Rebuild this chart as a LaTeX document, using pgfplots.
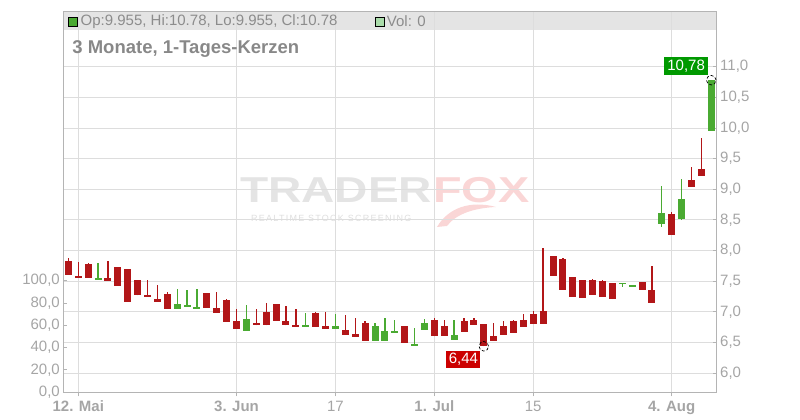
\documentclass[border=0pt]{standalone}
\usepackage{pgfplots}
\pgfplotsset{compat=1.18}
\usepackage{pgfplotstable}
\usepackage{fontspec}
\setmainfont{Liberation Sans}
\definecolor{cred}{RGB}{178,22,24}
\definecolor{cgreen}{RGB}{74,170,50}
\definecolor{labgreen}{RGB}{0,153,0}
\definecolor{labred}{RGB}{204,0,0}
\definecolor{gridc}{RGB}{221,221,221}
\definecolor{axc}{RGB}{180,180,180}
\definecolor{tickc}{RGB}{165,165,165}
\definecolor{hdrc}{RGB}{140,140,140}
\definecolor{titc}{RGB}{136,136,136}
\definecolor{barc}{RGB}{228,228,228}
\definecolor{wmgray}{RGB}{228,228,228}
\definecolor{wmsub}{RGB}{222,222,222}
\definecolor{foxpink}{RGB}{250,214,214}
\definecolor{volsq}{RGB}{170,220,170}

\pgfplotstableread{
i o h l c
-1 7.83 7.88 7.61 7.61
0 7.58 7.81 7.56 7.56
1 7.78 7.80 7.56 7.56
3 7.555 7.83 7.51 7.51
4 7.73 7.73 7.43 7.43
5 7.70 7.70 7.17 7.17
6 7.52 7.52 7.27 7.27
7 7.28 7.52 7.25 7.25
8 7.21 7.44 7.17 7.17
9 7.29 7.33 7.05 7.05
13 7.31 7.31 7.07 7.07
14 7.065 7.33 6.99 6.99
15 7.195 7.21 6.84 6.84
16 6.85 7.05 6.73 6.73
18 6.82 7.05 6.78 6.78
19 7.00 7.15 6.78 6.78
20 7.13 7.13 6.86 6.86
21 6.85 7.10 6.78 6.78
22 6.79 7.05 6.76 6.76
24 6.98 7.005 6.755 6.755
25 6.77 7.005 6.73 6.73
27 6.71 6.95 6.63 6.63
28 6.64 6.90 6.60 6.60
29 6.82 6.85 6.53 6.53
33 6.77 6.77 6.50 6.50
36 6.87 6.90 6.60 6.60
37 6.77 6.87 6.61 6.61
39 6.85 6.90 6.68 6.68
40 6.87 6.90 6.79 6.79
41 6.80 6.80 6.44 6.44
42 6.61 6.82 6.53 6.53
43 6.77 6.85 6.63 6.63
44 6.85 6.87 6.66 6.66
45 6.87 6.97 6.76 6.76
46 6.97 7.02 6.81 6.81
47 7.02 8.04 6.81 6.81
48 7.91 7.91 7.59 7.59
49 7.86 7.88 7.36 7.36
50 7.57 7.57 7.245 7.245
51 7.52 7.52 7.23 7.23
52 7.52 7.54 7.28 7.28
53 7.505 7.52 7.245 7.245
54 7.47 7.47 7.21 7.21
57 7.49 7.49 7.36 7.36
58 7.36 7.75 7.15 7.15
60 8.60 8.63 8.26 8.26
62 9.155 9.365 9.045 9.045
63 9.33 9.84 9.22 9.22
}\redtab

\pgfplotstableread{
i o h l c
2 7.53 7.80 7.53 7.555
10 7.05 7.38 7.05 7.13
11 7.10 7.36 7.10 7.11
12 7.055 7.38 7.055 7.08
17 6.695 7.11 6.695 6.886
23 6.76 6.98 6.76 6.776
26 6.73 6.97 6.73 6.77
30 6.53 6.82 6.53 6.77
31 6.53 6.90 6.53 6.69
32 6.67 6.87 6.67 6.69
34 6.46 6.74 6.46 6.475
35 6.71 6.89 6.71 6.82
38 6.55 6.87 6.55 6.62
55 7.455 7.475 7.41 7.475
56 7.42 7.44 7.41 7.435
59 8.43 9.06 8.39 8.61
61 8.52 9.17 8.50 8.84
64 9.955 10.78 9.955 10.78
}\greentab

\begin{document}
\begin{tikzpicture}
\path[use as bounding box] (0,0) rectangle (800bp,420bp);
% header bar
\fill[barc] (63bp,390bp) rectangle (716.7bp,408bp);
% watermark
\node[anchor=west, inner sep=0pt, xscale=1.28, text=wmgray, font=\fontsize{36bp}{40bp}\selectfont\bfseries] at (240bp,230bp) {TRADER};
\node[anchor=west, inner sep=0pt, xscale=1.30, text=foxpink, font=\fontsize{36bp}{40bp}\selectfont\bfseries] at (433bp,230bp) {FOX};
\node[anchor=west, inner sep=0pt, text=wmsub, font=\fontsize{9bp}{10bp}\selectfont\addfontfeature{LetterSpace=14}] at (251bp,201.7bp) {REALTIME STOCK SCREENING};
\fill[foxpink] (437bp,193bp) .. controls (448bp,212bp) and (470bp,220bp) .. (496bp,213bp)
  .. controls (474bp,212bp) and (456bp,206bp) .. (447bp,194bp) -- cycle;

% volume axis (left)
\begin{axis}[
  at={(63bp,27.7bp)}, anchor=south west,
  scale only axis, width=653.7bp, height=380.3bp,
  xmin=-1.547, xmax=64.55, ymin=0, ymax=340.8,
  axis x line=none, axis y line*=left,
  y axis line style={draw=axc, line width=1bp},
  ytick={0,20,...,100},
  ytick align=inside, major tick length=4.5bp,
  ytick style={draw=axc, line width=1bp},
  yticklabel style={font=\fontsize{15bp}{18bp}\selectfont, text=tickc, inner sep=0pt, xshift=-3bp},
  /pgf/number format/.cd, fixed, fixed zerofill, precision=1, use comma, assume math mode=true,
]
\end{axis}

% price axis
\begin{axis}[
  at={(63bp,27.7bp)}, anchor=south west,
  scale only axis, width=653.7bp, height=380.3bp,
  xmin=-1.547, xmax=64.55, ymin=5.69, ymax=11.892,
  axis line style={draw=axc, line width=1bp},
  xtick={0,16,26,36,46,60},
  xticklabels={\textbf{12. Mai},\textbf{3. Jun},17,\textbf{1. Jul},15,\textbf{4. Aug}},
  xtick pos=left, xticklabel pos=left,
  ytick pos=right, yticklabel pos=right,
  ytick={6,6.5,...,11},
  xtick align=outside, ytick align=inside,
  major tick length=4bp,
  tick style={draw=axc, line width=1bp},
  grid=major, major grid style={draw=gridc, line width=1bp},
  xticklabel style={font=\fontsize{15bp}{18bp}\selectfont, text=tickc, inner sep=0pt, yshift=-4.5bp},
  yticklabel style={font=\fontsize{15bp}{18bp}\selectfont, text=tickc, inner sep=0pt, xshift=3.3bp},
  yticklabel style={/pgf/number format/.cd, fixed, fixed zerofill, precision=1, use comma, assume math mode=true},
]
% red wicks
\addplot[draw=none, mark=none, forget plot,
  error bars/.cd, y dir=plus, y explicit, error mark=none,
  error bar style={line width=1.3bp, draw=cred}]
  table[x=i, y=l, y error expr=\thisrow{h}-\thisrow{l}] {\redtab};
% red bodies
\addplot[draw=none, mark=none, forget plot,
  error bars/.cd, y dir=both, y explicit, error mark=none,
  error bar style={line width=7bp, draw=cred}]
  table[x=i, y expr=(\thisrow{o}+\thisrow{c})/2, y error expr={max(abs(\thisrow{o}-\thisrow{c})/2,0.013)}] {\redtab};
% green wicks
\addplot[draw=none, mark=none, forget plot,
  error bars/.cd, y dir=plus, y explicit, error mark=none,
  error bar style={line width=1.3bp, draw=cgreen}]
  table[x=i, y=l, y error expr=\thisrow{h}-\thisrow{l}] {\greentab};
% green bodies
\addplot[draw=none, mark=none, forget plot,
  error bars/.cd, y dir=both, y explicit, error mark=none,
  error bar style={line width=7bp, draw=cgreen}]
  table[x=i, y expr=(\thisrow{o}+\thisrow{c})/2, y error expr={max(abs(\thisrow{o}-\thisrow{c})/2,0.013)}] {\greentab};
% high marker
\addplot[only marks, mark=o, mark size=4.8bp,
  mark options={draw=black, densely dashed, line width=0.7bp},
  nodes near coords={10{,}78},
  every node near coord/.append style={fill=labgreen, text=white, font=\fontsize{15bp}{17bp}\selectfont,
    inner xsep=3bp, inner ysep=2.5bp, text height=11bp, text depth=2.5bp,
    anchor=south east, xshift=-3bp, yshift=4.6bp, solid}]
  coordinates {(64,10.78)};
% low marker
\addplot[only marks, mark=o, mark size=4.8bp,
  mark options={draw=black, densely dashed, line width=0.7bp},
  nodes near coords={6{,}44},
  every node near coord/.append style={fill=labred, text=white, font=\fontsize{15bp}{17bp}\selectfont,
    inner xsep=2.5bp, inner ysep=2bp, text height=11bp, text depth=2.5bp,
    anchor=north east, xshift=-3bp, yshift=-4bp, solid}]
  coordinates {(41,6.44)};
\end{axis}

% header contents
\filldraw[fill=cgreen, draw=black, line width=1bp] (68.7bp,393.7bp) rectangle (77.3bp,402.7bp);
\node[anchor=west, inner sep=0pt, text=hdrc, font=\fontsize{15bp}{18bp}\selectfont] at (80.5bp,398.5bp) {Op:9.955, Hi:10.78, Lo:9.955, Cl:10.78};
\filldraw[fill=volsq, draw=black, line width=1bp] (375bp,393.7bp) rectangle (384bp,402.7bp);
\node[anchor=west, inner sep=0pt, text=hdrc, font=\fontsize{15bp}{18bp}\selectfont] at (386.7bp,398.5bp) {Vol: 0};
\node[anchor=base west, inner sep=0pt, text=titc, font=\fontsize{18.5bp}{22bp}\selectfont\bfseries] at (72.2bp,366bp) {3 Monate, 1-Tages-Kerzen};
\end{tikzpicture}
\end{document}
